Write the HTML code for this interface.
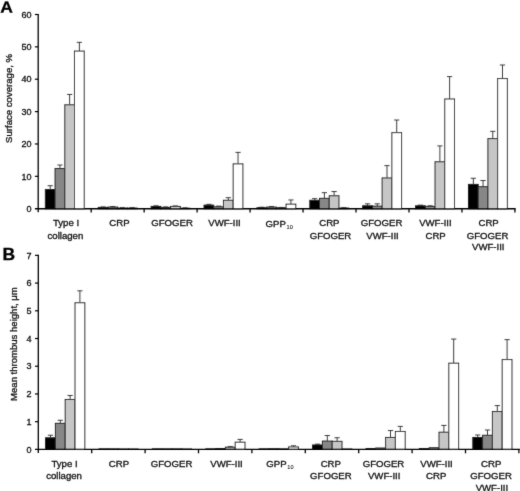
<!DOCTYPE html>
<html lang="en"><head><meta charset="utf-8"><title>Figure</title>
<style>html,body{margin:0;padding:0;background:#fff}svg{display:block}</style></head>
<body>
<svg width="520" height="491" viewBox="0 0 520 491" font-family='"Liberation Sans", Arial, sans-serif' fill="#0c0c0c" stroke="#0c0c0c" stroke-width="0.3">
<rect width="520" height="491" fill="#fff" stroke="none"/>
<defs><filter id="soft" x="0" y="0" width="100%" height="100%" filterUnits="userSpaceOnUse"><feConvolveMatrix order="3" kernelMatrix="0.015 0.07 0.015 0.07 0.66 0.07 0.015 0.07 0.015" divisor="1" edgeMode="none"/></filter></defs>
<g filter="url(#soft)">
<path d="M50.21 189.60V185.72M47.61 185.72H52.81" stroke="#2a2a2a" stroke-width="0.9" fill="none"/>
<rect x="45.35" y="189.60" width="9.72" height="19.10" fill="#000000" stroke="#222" stroke-width="1"/>
<path d="M59.93 168.56V165.00M57.33 165.00H62.53" stroke="#2a2a2a" stroke-width="0.9" fill="none"/>
<rect x="55.07" y="168.56" width="9.72" height="40.14" fill="#878787" stroke="#222" stroke-width="1"/>
<path d="M69.65 104.80V94.44M67.05 94.44H72.25" stroke="#2a2a2a" stroke-width="0.9" fill="none"/>
<rect x="64.79" y="104.80" width="9.72" height="103.90" fill="#c6c6c6" stroke="#222" stroke-width="1"/>
<path d="M79.37 51.07V42.33M76.77 42.33H81.97" stroke="#2a2a2a" stroke-width="0.9" fill="none"/>
<rect x="74.51" y="51.07" width="9.72" height="157.63" fill="#ffffff" stroke="#222" stroke-width="1"/>
<path d="M103.10 207.41V206.92M100.50 206.92H105.70" stroke="#2a2a2a" stroke-width="0.9" fill="none"/>
<rect x="98.24" y="207.41" width="9.72" height="1.29" fill="#000000" stroke="#222" stroke-width="1"/>
<path d="M112.82 207.08V206.60M110.22 206.60H115.42" stroke="#2a2a2a" stroke-width="0.9" fill="none"/>
<rect x="107.96" y="207.08" width="9.72" height="1.62" fill="#878787" stroke="#222" stroke-width="1"/>
<path d="M122.54 208.05V207.73M119.94 207.73H125.14" stroke="#2a2a2a" stroke-width="0.9" fill="none"/>
<rect x="117.68" y="208.05" width="9.72" height="0.65" fill="#c6c6c6" stroke="#222" stroke-width="1"/>
<path d="M132.26 208.05V207.73M129.66 207.73H134.86" stroke="#2a2a2a" stroke-width="0.9" fill="none"/>
<rect x="127.40" y="208.05" width="9.72" height="0.65" fill="#ffffff" stroke="#222" stroke-width="1"/>
<path d="M155.99 206.43V205.79M153.39 205.79H158.59" stroke="#2a2a2a" stroke-width="0.9" fill="none"/>
<rect x="151.13" y="206.43" width="9.72" height="2.27" fill="#000000" stroke="#222" stroke-width="1"/>
<path d="M165.71 207.41V206.92M163.11 206.92H168.31" stroke="#2a2a2a" stroke-width="0.9" fill="none"/>
<rect x="160.85" y="207.41" width="9.72" height="1.29" fill="#878787" stroke="#222" stroke-width="1"/>
<path d="M175.43 206.43V205.95M172.83 205.95H178.03" stroke="#2a2a2a" stroke-width="0.9" fill="none"/>
<rect x="170.57" y="206.43" width="9.72" height="2.27" fill="#c6c6c6" stroke="#222" stroke-width="1"/>
<path d="M185.15 208.21V207.89M182.55 207.89H187.75" stroke="#2a2a2a" stroke-width="0.9" fill="none"/>
<rect x="180.29" y="208.21" width="9.72" height="0.49" fill="#ffffff" stroke="#222" stroke-width="1"/>
<path d="M208.88 205.14V204.33M206.28 204.33H211.48" stroke="#2a2a2a" stroke-width="0.9" fill="none"/>
<rect x="204.02" y="205.14" width="9.72" height="3.56" fill="#000000" stroke="#222" stroke-width="1"/>
<path d="M218.60 206.76V206.11M216.00 206.11H221.20" stroke="#2a2a2a" stroke-width="0.9" fill="none"/>
<rect x="213.74" y="206.76" width="9.72" height="1.94" fill="#878787" stroke="#222" stroke-width="1"/>
<path d="M228.32 200.28V197.70M225.72 197.70H230.92" stroke="#2a2a2a" stroke-width="0.9" fill="none"/>
<rect x="223.46" y="200.28" width="9.72" height="8.42" fill="#c6c6c6" stroke="#222" stroke-width="1"/>
<path d="M238.04 163.87V152.38M235.44 152.38H240.64" stroke="#2a2a2a" stroke-width="0.9" fill="none"/>
<rect x="233.18" y="163.87" width="9.72" height="44.83" fill="#ffffff" stroke="#222" stroke-width="1"/>
<path d="M261.77 207.73V207.24M259.17 207.24H264.37" stroke="#2a2a2a" stroke-width="0.9" fill="none"/>
<rect x="256.91" y="207.73" width="9.72" height="0.97" fill="#000000" stroke="#222" stroke-width="1"/>
<path d="M271.49 207.08V206.60M268.89 206.60H274.09" stroke="#2a2a2a" stroke-width="0.9" fill="none"/>
<rect x="266.63" y="207.08" width="9.72" height="1.62" fill="#878787" stroke="#222" stroke-width="1"/>
<path d="M281.21 207.73V207.41M278.61 207.41H283.81" stroke="#2a2a2a" stroke-width="0.9" fill="none"/>
<rect x="276.35" y="207.73" width="9.72" height="0.97" fill="#c6c6c6" stroke="#222" stroke-width="1"/>
<path d="M290.93 204.17V199.96M288.33 199.96H293.53" stroke="#2a2a2a" stroke-width="0.9" fill="none"/>
<rect x="286.07" y="204.17" width="9.72" height="4.53" fill="#ffffff" stroke="#222" stroke-width="1"/>
<path d="M314.66 200.28V198.67M312.06 198.67H317.26" stroke="#2a2a2a" stroke-width="0.9" fill="none"/>
<rect x="309.80" y="200.28" width="9.72" height="8.42" fill="#000000" stroke="#222" stroke-width="1"/>
<path d="M324.38 198.34V192.68M321.78 192.68H326.98" stroke="#2a2a2a" stroke-width="0.9" fill="none"/>
<rect x="319.52" y="198.34" width="9.72" height="10.36" fill="#878787" stroke="#222" stroke-width="1"/>
<path d="M334.10 195.75V191.55M331.50 191.55H336.70" stroke="#2a2a2a" stroke-width="0.9" fill="none"/>
<rect x="329.24" y="195.75" width="9.72" height="12.95" fill="#c6c6c6" stroke="#222" stroke-width="1"/>
<path d="M343.82 208.05V207.73M341.22 207.73H346.42" stroke="#2a2a2a" stroke-width="0.9" fill="none"/>
<rect x="338.96" y="208.05" width="9.72" height="0.65" fill="#ffffff" stroke="#222" stroke-width="1"/>
<path d="M367.55 205.79V203.84M364.95 203.84H370.15" stroke="#2a2a2a" stroke-width="0.9" fill="none"/>
<rect x="362.69" y="205.79" width="9.72" height="2.91" fill="#000000" stroke="#222" stroke-width="1"/>
<path d="M377.27 206.11V203.84M374.67 203.84H379.87" stroke="#2a2a2a" stroke-width="0.9" fill="none"/>
<rect x="372.41" y="206.11" width="9.72" height="2.59" fill="#878787" stroke="#222" stroke-width="1"/>
<path d="M386.99 177.95V165.65M384.39 165.65H389.59" stroke="#2a2a2a" stroke-width="0.9" fill="none"/>
<rect x="382.13" y="177.95" width="9.72" height="30.75" fill="#c6c6c6" stroke="#222" stroke-width="1"/>
<path d="M396.71 132.64V120.01M394.11 120.01H399.31" stroke="#2a2a2a" stroke-width="0.9" fill="none"/>
<rect x="391.85" y="132.64" width="9.72" height="76.06" fill="#ffffff" stroke="#222" stroke-width="1"/>
<path d="M420.44 205.79V205.14M417.84 205.14H423.04" stroke="#2a2a2a" stroke-width="0.9" fill="none"/>
<rect x="415.58" y="205.79" width="9.72" height="2.91" fill="#000000" stroke="#222" stroke-width="1"/>
<path d="M430.16 206.43V205.79M427.56 205.79H432.76" stroke="#2a2a2a" stroke-width="0.9" fill="none"/>
<rect x="425.30" y="206.43" width="9.72" height="2.27" fill="#878787" stroke="#222" stroke-width="1"/>
<path d="M439.88 161.77V145.91M437.28 145.91H442.48" stroke="#2a2a2a" stroke-width="0.9" fill="none"/>
<rect x="435.02" y="161.77" width="9.72" height="46.93" fill="#c6c6c6" stroke="#222" stroke-width="1"/>
<path d="M449.60 98.98V76.64M447.00 76.64H452.20" stroke="#2a2a2a" stroke-width="0.9" fill="none"/>
<rect x="444.74" y="98.98" width="9.72" height="109.72" fill="#ffffff" stroke="#222" stroke-width="1"/>
<path d="M473.33 184.42V178.28M470.73 178.28H475.93" stroke="#2a2a2a" stroke-width="0.9" fill="none"/>
<rect x="468.47" y="184.42" width="9.72" height="24.28" fill="#000000" stroke="#222" stroke-width="1"/>
<path d="M483.05 186.69V180.54M480.45 180.54H485.65" stroke="#2a2a2a" stroke-width="0.9" fill="none"/>
<rect x="478.19" y="186.69" width="9.72" height="22.01" fill="#878787" stroke="#222" stroke-width="1"/>
<path d="M492.77 138.63V131.34M490.17 131.34H495.37" stroke="#2a2a2a" stroke-width="0.9" fill="none"/>
<rect x="487.91" y="138.63" width="9.72" height="70.07" fill="#c6c6c6" stroke="#222" stroke-width="1"/>
<path d="M502.49 78.58V64.99M499.89 64.99H505.09" stroke="#2a2a2a" stroke-width="0.9" fill="none"/>
<rect x="497.63" y="78.58" width="9.72" height="130.12" fill="#ffffff" stroke="#222" stroke-width="1"/>
<path d="M38.20 13.90V212.30" stroke="#000" stroke-width="1.3" fill="none"/>
<path d="M34.90 208.70H515.60" stroke="#000" stroke-width="1.4" fill="none"/>
<text x="31.4" y="211.95" font-size="9.0" text-anchor="end" stroke-width="0.3">0</text>
<path d="M34.90 176.33H38.20" stroke="#000" stroke-width="1.2" fill="none"/>
<text x="31.4" y="179.58" font-size="9.0" text-anchor="end" stroke-width="0.3">10</text>
<path d="M34.90 143.97H38.20" stroke="#000" stroke-width="1.2" fill="none"/>
<text x="31.4" y="147.22" font-size="9.0" text-anchor="end" stroke-width="0.3">20</text>
<path d="M34.90 111.60H38.20" stroke="#000" stroke-width="1.2" fill="none"/>
<text x="31.4" y="114.85" font-size="9.0" text-anchor="end" stroke-width="0.3">30</text>
<path d="M34.90 79.23H38.20" stroke="#000" stroke-width="1.2" fill="none"/>
<text x="31.4" y="82.48" font-size="9.0" text-anchor="end" stroke-width="0.3">40</text>
<path d="M34.90 46.86H38.20" stroke="#000" stroke-width="1.2" fill="none"/>
<text x="31.4" y="50.11" font-size="9.0" text-anchor="end" stroke-width="0.3">50</text>
<path d="M34.90 14.50H38.20" stroke="#000" stroke-width="1.2" fill="none"/>
<text x="31.4" y="17.75" font-size="9.0" text-anchor="end" stroke-width="0.3">60</text>
<path d="M91.17 208.70V212.60" stroke="#000" stroke-width="1.3" fill="none"/>
<path d="M144.14 208.70V212.60" stroke="#000" stroke-width="1.3" fill="none"/>
<path d="M197.11 208.70V212.60" stroke="#000" stroke-width="1.3" fill="none"/>
<path d="M250.08 208.70V212.60" stroke="#000" stroke-width="1.3" fill="none"/>
<path d="M303.05 208.70V212.60" stroke="#000" stroke-width="1.3" fill="none"/>
<path d="M356.02 208.70V212.60" stroke="#000" stroke-width="1.3" fill="none"/>
<path d="M408.99 208.70V212.60" stroke="#000" stroke-width="1.3" fill="none"/>
<path d="M461.96 208.70V212.60" stroke="#000" stroke-width="1.3" fill="none"/>
<path d="M514.93 208.70V212.60" stroke="#000" stroke-width="1.3" fill="none"/>
<path d="M50.50 437.76V435.26M47.90 435.26H53.10" stroke="#2a2a2a" stroke-width="0.9" fill="none"/>
<rect x="45.60" y="437.76" width="9.80" height="11.64" fill="#000000" stroke="#222" stroke-width="1"/>
<path d="M60.30 423.34V420.29M57.70 420.29H62.90" stroke="#2a2a2a" stroke-width="0.9" fill="none"/>
<rect x="55.40" y="423.34" width="9.80" height="26.06" fill="#878787" stroke="#222" stroke-width="1"/>
<path d="M70.10 399.50V395.48M67.50 395.48H72.70" stroke="#2a2a2a" stroke-width="0.9" fill="none"/>
<rect x="65.20" y="399.50" width="9.80" height="49.90" fill="#c6c6c6" stroke="#222" stroke-width="1"/>
<path d="M79.90 302.76V290.84M77.30 290.84H82.50" stroke="#2a2a2a" stroke-width="0.9" fill="none"/>
<rect x="75.00" y="302.76" width="9.80" height="146.64" fill="#ffffff" stroke="#222" stroke-width="1"/>
<rect x="99.00" y="448.85" width="9.80" height="0.55" fill="#000000" stroke="#222" stroke-width="1"/>
<rect x="108.80" y="448.85" width="9.80" height="0.55" fill="#878787" stroke="#222" stroke-width="1"/>
<rect x="118.60" y="448.98" width="9.80" height="0.42" fill="#c6c6c6" stroke="#222" stroke-width="1"/>
<rect x="128.40" y="448.98" width="9.80" height="0.42" fill="#ffffff" stroke="#222" stroke-width="1"/>
<rect x="152.40" y="448.85" width="9.80" height="0.55" fill="#000000" stroke="#222" stroke-width="1"/>
<rect x="162.20" y="448.85" width="9.80" height="0.55" fill="#878787" stroke="#222" stroke-width="1"/>
<rect x="172.00" y="448.85" width="9.80" height="0.55" fill="#c6c6c6" stroke="#222" stroke-width="1"/>
<rect x="181.80" y="448.98" width="9.80" height="0.42" fill="#ffffff" stroke="#222" stroke-width="1"/>
<rect x="205.80" y="448.85" width="9.80" height="0.55" fill="#000000" stroke="#222" stroke-width="1"/>
<rect x="215.60" y="448.57" width="9.80" height="0.83" fill="#878787" stroke="#222" stroke-width="1"/>
<path d="M230.30 447.18V446.63M227.70 446.63H232.90" stroke="#2a2a2a" stroke-width="0.9" fill="none"/>
<rect x="225.40" y="447.18" width="9.80" height="2.22" fill="#c6c6c6" stroke="#222" stroke-width="1"/>
<path d="M240.10 442.19V439.42M237.50 439.42H242.70" stroke="#2a2a2a" stroke-width="0.9" fill="none"/>
<rect x="235.20" y="442.19" width="9.80" height="7.21" fill="#ffffff" stroke="#222" stroke-width="1"/>
<rect x="259.20" y="448.85" width="9.80" height="0.55" fill="#000000" stroke="#222" stroke-width="1"/>
<rect x="269.00" y="448.71" width="9.80" height="0.69" fill="#878787" stroke="#222" stroke-width="1"/>
<rect x="278.80" y="448.85" width="9.80" height="0.55" fill="#c6c6c6" stroke="#222" stroke-width="1"/>
<path d="M293.50 446.91V445.80M290.90 445.80H296.10" stroke="#2a2a2a" stroke-width="0.9" fill="none"/>
<rect x="288.60" y="446.91" width="9.80" height="2.49" fill="#ffffff" stroke="#222" stroke-width="1"/>
<path d="M317.50 444.96V444.13M314.90 444.13H320.10" stroke="#2a2a2a" stroke-width="0.9" fill="none"/>
<rect x="312.60" y="444.96" width="9.80" height="4.44" fill="#000000" stroke="#222" stroke-width="1"/>
<path d="M327.30 441.08V435.54M324.70 435.54H329.90" stroke="#2a2a2a" stroke-width="0.9" fill="none"/>
<rect x="322.40" y="441.08" width="9.80" height="8.32" fill="#878787" stroke="#222" stroke-width="1"/>
<path d="M337.10 441.36V437.76M334.50 437.76H339.70" stroke="#2a2a2a" stroke-width="0.9" fill="none"/>
<rect x="332.20" y="441.36" width="9.80" height="8.04" fill="#c6c6c6" stroke="#222" stroke-width="1"/>
<rect x="342.00" y="448.98" width="9.80" height="0.42" fill="#ffffff" stroke="#222" stroke-width="1"/>
<rect x="366.00" y="448.57" width="9.80" height="0.83" fill="#000000" stroke="#222" stroke-width="1"/>
<rect x="375.80" y="448.01" width="9.80" height="1.39" fill="#878787" stroke="#222" stroke-width="1"/>
<path d="M390.50 437.48V430.55M387.90 430.55H393.10" stroke="#2a2a2a" stroke-width="0.9" fill="none"/>
<rect x="385.60" y="437.48" width="9.80" height="11.92" fill="#c6c6c6" stroke="#222" stroke-width="1"/>
<path d="M400.30 431.52V426.39M397.70 426.39H402.90" stroke="#2a2a2a" stroke-width="0.9" fill="none"/>
<rect x="395.40" y="431.52" width="9.80" height="17.88" fill="#ffffff" stroke="#222" stroke-width="1"/>
<rect x="419.40" y="448.57" width="9.80" height="0.83" fill="#000000" stroke="#222" stroke-width="1"/>
<rect x="429.20" y="447.74" width="9.80" height="1.66" fill="#878787" stroke="#222" stroke-width="1"/>
<path d="M443.90 432.21V425.42M441.30 425.42H446.50" stroke="#2a2a2a" stroke-width="0.9" fill="none"/>
<rect x="439.00" y="432.21" width="9.80" height="17.19" fill="#c6c6c6" stroke="#222" stroke-width="1"/>
<path d="M453.70 363.19V339.07M451.10 339.07H456.30" stroke="#2a2a2a" stroke-width="0.9" fill="none"/>
<rect x="448.80" y="363.19" width="9.80" height="86.21" fill="#ffffff" stroke="#222" stroke-width="1"/>
<path d="M477.70 437.48V434.99M475.10 434.99H480.30" stroke="#2a2a2a" stroke-width="0.9" fill="none"/>
<rect x="472.80" y="437.48" width="9.80" height="11.92" fill="#000000" stroke="#222" stroke-width="1"/>
<path d="M487.50 435.26V430.00M484.90 430.00H490.10" stroke="#2a2a2a" stroke-width="0.9" fill="none"/>
<rect x="482.60" y="435.26" width="9.80" height="14.14" fill="#878787" stroke="#222" stroke-width="1"/>
<path d="M497.30 411.56V405.60M494.70 405.60H499.90" stroke="#2a2a2a" stroke-width="0.9" fill="none"/>
<rect x="492.40" y="411.56" width="9.80" height="37.84" fill="#c6c6c6" stroke="#222" stroke-width="1"/>
<path d="M507.10 359.59V339.63M504.50 339.63H509.70" stroke="#2a2a2a" stroke-width="0.9" fill="none"/>
<rect x="502.20" y="359.59" width="9.80" height="89.81" fill="#ffffff" stroke="#222" stroke-width="1"/>
<path d="M38.30 254.80V453.00" stroke="#000" stroke-width="1.3" fill="none"/>
<path d="M35.00 449.40H520.00" stroke="#000" stroke-width="1.4" fill="none"/>
<text x="31.4" y="452.65" font-size="9.0" text-anchor="end" stroke-width="0.3">0</text>
<path d="M35.00 421.68H38.30" stroke="#000" stroke-width="1.2" fill="none"/>
<text x="31.4" y="424.93" font-size="9.0" text-anchor="end" stroke-width="0.3">1</text>
<path d="M35.00 393.96H38.30" stroke="#000" stroke-width="1.2" fill="none"/>
<text x="31.4" y="397.21" font-size="9.0" text-anchor="end" stroke-width="0.3">2</text>
<path d="M35.00 366.24H38.30" stroke="#000" stroke-width="1.2" fill="none"/>
<text x="31.4" y="369.49" font-size="9.0" text-anchor="end" stroke-width="0.3">3</text>
<path d="M35.00 338.52H38.30" stroke="#000" stroke-width="1.2" fill="none"/>
<text x="31.4" y="341.77" font-size="9.0" text-anchor="end" stroke-width="0.3">4</text>
<path d="M35.00 310.80H38.30" stroke="#000" stroke-width="1.2" fill="none"/>
<text x="31.4" y="314.05" font-size="9.0" text-anchor="end" stroke-width="0.3">5</text>
<path d="M35.00 283.08H38.30" stroke="#000" stroke-width="1.2" fill="none"/>
<text x="31.4" y="286.33" font-size="9.0" text-anchor="end" stroke-width="0.3">6</text>
<path d="M35.00 255.36H38.30" stroke="#000" stroke-width="1.2" fill="none"/>
<text x="31.4" y="258.61" font-size="9.0" text-anchor="end" stroke-width="0.3">7</text>
<path d="M91.70 449.40V453.30" stroke="#000" stroke-width="1.3" fill="none"/>
<path d="M145.10 449.40V453.30" stroke="#000" stroke-width="1.3" fill="none"/>
<path d="M198.50 449.40V453.30" stroke="#000" stroke-width="1.3" fill="none"/>
<path d="M251.90 449.40V453.30" stroke="#000" stroke-width="1.3" fill="none"/>
<path d="M305.30 449.40V453.30" stroke="#000" stroke-width="1.3" fill="none"/>
<path d="M358.70 449.40V453.30" stroke="#000" stroke-width="1.3" fill="none"/>
<path d="M412.10 449.40V453.30" stroke="#000" stroke-width="1.3" fill="none"/>
<path d="M465.50 449.40V453.30" stroke="#000" stroke-width="1.3" fill="none"/>
<path d="M518.90 449.40V453.30" stroke="#000" stroke-width="1.3" fill="none"/>
<text transform="translate(0.2 12.6) rotate(0.03) scale(1.1 1)" font-size="15.9" font-weight="bold" fill="#000">A</text>
<text x="2.4" y="259.6" font-size="16.3" font-weight="bold" fill="#000" textLength="12.6" lengthAdjust="spacingAndGlyphs">B</text>
<text transform="translate(12.1 142.9) rotate(-90)" font-size="9.9" textLength="89" lengthAdjust="spacingAndGlyphs">Surface coverage, %</text>
<text transform="translate(17.4 400.9) rotate(-90)" font-size="9.9" textLength="113.7" lengthAdjust="spacingAndGlyphs">Mean thrombus height, μm</text>
<text x="66.00" y="226.40" font-size="9.6" text-anchor="middle">Type I</text>
<text x="65.40" y="238.50" font-size="9.6" text-anchor="middle">collagen</text>
<text x="119.50" y="226.40" font-size="9.6" text-anchor="middle">CRP</text>
<text x="172.10" y="226.40" font-size="9.6" text-anchor="middle">GFOGER</text>
<text x="224.50" y="226.40" font-size="9.6" text-anchor="middle">VWF-III</text>
<text x="329.40" y="226.40" font-size="9.6" text-anchor="middle">CRP</text>
<text x="330.50" y="238.50" font-size="9.6" text-anchor="middle">GFOGER</text>
<text x="381.60" y="226.40" font-size="9.6" text-anchor="middle">GFOGER</text>
<text x="382.50" y="238.50" font-size="9.6" text-anchor="middle">VWF-III</text>
<text x="435.40" y="226.40" font-size="9.6" text-anchor="middle">VWF-III</text>
<text x="435.60" y="238.50" font-size="9.6" text-anchor="middle">CRP</text>
<text x="488.60" y="226.40" font-size="9.6" text-anchor="middle">CRP</text>
<text x="487.60" y="238.50" font-size="9.6" text-anchor="middle">GFOGER</text>
<text x="488.30" y="250.40" font-size="9.6" text-anchor="middle">VWF-III</text>
<text x="265.6" y="226.5" font-size="9.6">GPP<tspan font-size="5.6" dx="0.7" dy="2.1" stroke-width="0.05">10</tspan></text>
<text x="64.50" y="466.80" font-size="9.6" text-anchor="middle">Type I</text>
<text x="64.10" y="478.80" font-size="9.6" text-anchor="middle">collagen</text>
<text x="119.00" y="466.80" font-size="9.6" text-anchor="middle">CRP</text>
<text x="171.60" y="466.80" font-size="9.6" text-anchor="middle">GFOGER</text>
<text x="226.50" y="466.80" font-size="9.6" text-anchor="middle">VWF-III</text>
<text x="330.80" y="466.80" font-size="9.6" text-anchor="middle">CRP</text>
<text x="330.90" y="478.80" font-size="9.6" text-anchor="middle">GFOGER</text>
<text x="383.50" y="466.80" font-size="9.6" text-anchor="middle">GFOGER</text>
<text x="384.20" y="478.80" font-size="9.6" text-anchor="middle">VWF-III</text>
<text x="436.50" y="466.80" font-size="9.6" text-anchor="middle">VWF-III</text>
<text x="436.25" y="478.80" font-size="9.6" text-anchor="middle">CRP</text>
<text x="491.25" y="466.80" font-size="9.6" text-anchor="middle">CRP</text>
<text x="491.10" y="478.80" font-size="9.6" text-anchor="middle">GFOGER</text>
<text x="491.90" y="490.90" font-size="9.6" text-anchor="middle">VWF-III</text>
<text x="266.3" y="466.9" font-size="9.6">GPP<tspan font-size="5.6" dx="0.7" dy="2.1" stroke-width="0.05">10</tspan></text>
</g>
</svg>
</body></html>
